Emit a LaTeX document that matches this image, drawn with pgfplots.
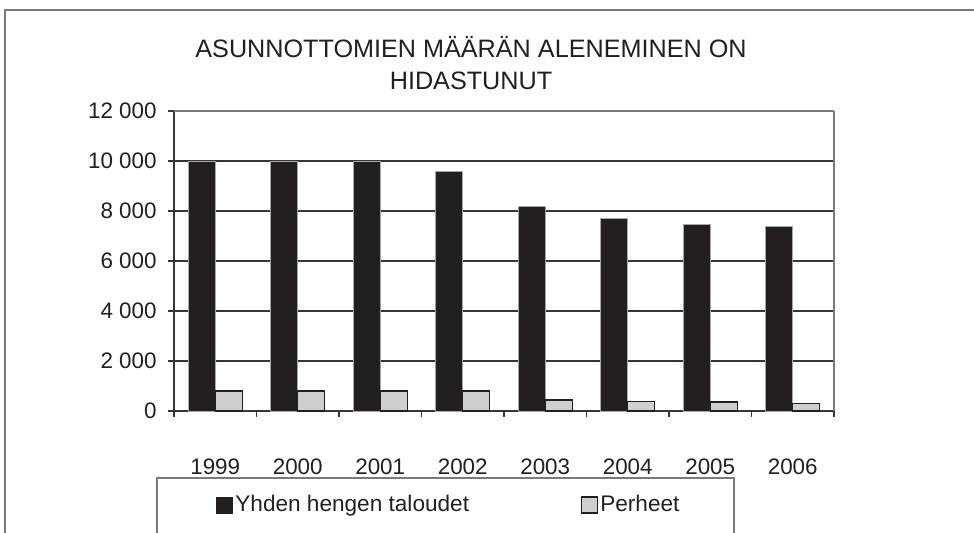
\documentclass[border=0pt]{standalone}
\usepackage{fontspec}
\setmainfont{Liberation Sans}
\usepackage{pgfplots}
\pgfplotsset{compat=1.18}
\definecolor{ink}{HTML}{231F20}
\definecolor{bargray}{HTML}{CFCFCF}
\definecolor{framegray}{HTML}{7A7A7A}
\begin{document}
\begin{tikzpicture}
\path[use as bounding box] (0,0) rectangle (487pt,-266pt);
\draw[framegray, line width=0.7pt] (2.5pt,-270pt) -- (2.5pt,-5pt) -- (490pt,-5pt);
\node[font=\fontsize{12.6}{14}\selectfont, anchor=base, text=ink] at (235.5pt,-28.9pt) {ASUNNOTTOMIEN MÄÄRÄN ALENEMINEN ON};
\node[font=\fontsize{12.6}{14}\selectfont, anchor=base, text=ink] at (235.5pt,-44.5pt) {HIDASTUNUT};
\begin{axis}[
  at={(87pt,-205.5pt)}, anchor=south west,
  scale only axis, width=330pt, height=150pt,
  ybar=0pt, bar width=13.5pt,
  xmin=-0.5, xmax=7.5, ymin=0, ymax=12000,
  scaled y ticks=false,
  axis lines*=left,
  axis line style={ink!90, line width=0.6pt},
  tick align=outside,
  xtick={0,...,7},
  xticklabels={1999,2000,2001,2002,2003,2004,2005,2006},
  major x tick style={draw=none},
  minor xtick={-0.5,0.5,...,7.5},
  minor tick length=3pt,
  minor x tick style={ink!90, line width=0.6pt},
  ytick={0,2000,4000,6000,8000,10000},
  yticklabels={0,2 000,4 000,6 000,8 000,10 000},
  extra y ticks={12000},
  extra y tick labels={12 000},
  extra y tick style={major grid style={framegray, line width=0.6pt}},
  extra x ticks={7.5},
  extra x tick labels={},
  extra x tick style={grid=major, major grid style={framegray, line width=0.6pt}, major tick length=0pt},
  major tick length=3pt,
  y tick style={ink!90, line width=0.6pt},
  ymajorgrids,
  major grid style={ink!90, line width=0.6pt},
  tick label style={font=\fontsize{11.2}{13}\selectfont, text=ink},
  /pgf/number format/assume math mode=true,
  xticklabel style={anchor=base, yshift=-28.5pt},
  yticklabel style={anchor=east, inner sep=0pt, xshift=-5.5pt},
  legend columns=2,
  legend style={draw=none, fill=none, at={(0.0636,-0.3133)}, anchor=west,
    inner sep=0pt, font=\fontsize{11.3}{13}\selectfont, text=ink,
    nodes={inner sep=1pt},
    /tikz/every even column/.append style={column sep=55pt}},
]
\addplot[fill=ink, draw=gray!70, line width=0.5pt,
  legend image code/.code={\draw[fill=ink, draw=ink] (0pt,-4pt) rectangle (8pt,4pt);}]
  coordinates {(0,10000) (1,10000) (2,10000) (3,9570) (4,8190) (5,7690) (6,7470) (7,7390)};
\addplot[fill=bargray, draw=ink, line width=0.6pt,
  legend image code/.code={\draw[fill=bargray, draw=ink, line width=0.6pt] (0pt,-4pt) rectangle (8pt,4pt);}]
  coordinates {(0,800) (1,800) (2,800) (3,800) (4,440) (5,370) (6,360) (7,305)};
\legend{Yhden hengen taloudet, Perheet}
\end{axis}
\draw[framegray, line width=0.6pt] (78.5pt,-270pt) -- (78.5pt,-239pt) -- (367pt,-239pt) -- (367pt,-270pt);
\end{tikzpicture}
\end{document}
